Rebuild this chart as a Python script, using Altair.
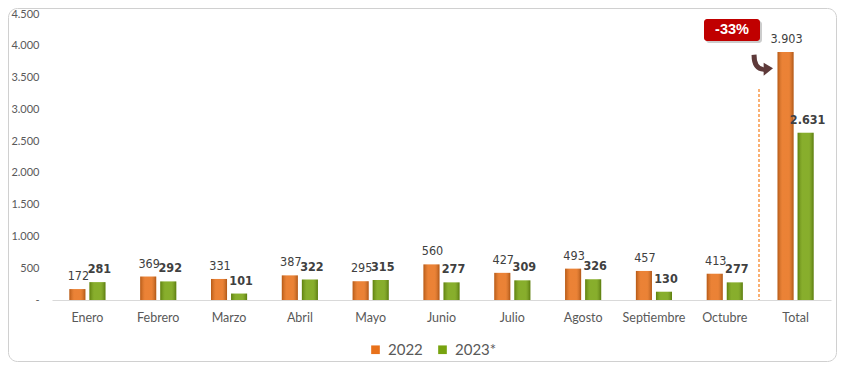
import altair as alt
import pandas as pd

months = ["Enero", "Febrero", "Marzo", "Abril", "Mayo", "Junio", "Julio",
          "Agosto", "Septiembre", "Octubre", "Total"]
v2022 = [172, 369, 331, 387, 295, 560, 427, 493, 457, 413, 3903]
v2023 = [281, 292, 101, 322, 315, 277, 309, 326, 130, 277, 2631]
series = ["2022", "2023*"]
colors = ["#E8711A", "#77A30F"]
y_ticks = [0, 500, 1000, 1500, 2000, 2500, 3000, 3500, 4000, 4500]

rows = []
for m, a, b in zip(months, v2022, v2023):
    rows.append({"mes": m, "serie": series[0], "valor": a})
    rows.append({"mes": m, "serie": series[1], "valor": b})
df = pd.DataFrame(rows)
df["etiqueta"] = df["valor"].map(lambda v: f"{v:,}".replace(",", "."))

change = round((v2023[-1] / v2022[-1] - 1) * 100)
ann = pd.DataFrame({"txt": [f"{change}%"]})

GRAY = "#595959"
LBL = "#404040"

x = alt.X("mes:N", sort=months,
          scale=alt.Scale(paddingInner=0.49, paddingOuter=0.245),
          axis=alt.Axis(title=None, labelAngle=0, domainColor="#D9D9D9", domainWidth=1,
                        ticks=False, labelPadding=11, labelFont="Lato", labelFontSize=12.5,
                        labelColor=GRAY, grid=False))
xo = alt.XOffset("serie:N", sort=series, scale=alt.Scale(paddingInner=0.2, paddingOuter=0))
y = alt.Y("valor:Q", scale=alt.Scale(domain=[0, 4500], nice=False),
          axis=alt.Axis(title=None, values=y_ticks, domain=False, ticks=False, grid=False,
                        labelExpr="datum.value == 0 ? '-' : replace(format(datum.value, ','), ',', '.')",
                        labelPadding=13, labelFont="Lato", labelFontSize=11, labelColor=GRAY))

base = alt.Chart(df).encode(x=x, xOffset=xo, y=y)

bars = base.mark_bar().encode(
    color=alt.Color("serie:N", sort=series, scale=alt.Scale(domain=series, range=colors),
                    legend=alt.Legend(title=None, orient="none", legendX=316, legendY=328,
                                      direction="horizontal", symbolType="square",
                                      symbolSize=75, labelFont="Lato", labelFontSize=15,
                                      labelColor=GRAY, columnPadding=12, labelOffset=5,
                                      symbolStrokeWidth=0))
)

shade = base.mark_bar(color=alt.LinearGradient(
    gradient="linear", x1=0, x2=1, y1=0, y2=0,
    stops=[alt.GradientStop(color="rgba(0,0,0,0.22)", offset=0),
           alt.GradientStop(color="rgba(255,255,255,0.12)", offset=0.3),
           alt.GradientStop(color="rgba(255,255,255,0.12)", offset=0.7),
           alt.GradientStop(color="rgba(0,0,0,0.25)", offset=1)]))

t2022 = base.transform_filter(alt.datum.serie == series[0]).mark_text(
    font="DejaVu Sans Condensed", fontSize=12.5, color=LBL, baseline="bottom", dy=-6, dx=1
).encode(text="etiqueta:N")
t2023 = base.transform_filter(alt.datum.serie == series[1]).mark_text(
    font="DejaVu Sans Condensed", fontSize=12.5, fontWeight="bold", color=LBL,
    baseline="bottom", dy=-6, dx=2
).encode(text="etiqueta:N")

one = alt.Chart(ann)
sep = one.mark_rule(color="#F79646", strokeDash=[3, 2], strokeWidth=1.5).encode(
    x=alt.value(707), y=alt.value(75), y2=alt.value(286))

box_shadow = one.mark_rect(color="#000000", opacity=0.2, cornerRadius=3).encode(
    x=alt.value(654), x2=alt.value(710), y=alt.value(7), y2=alt.value(29))
box = one.mark_rect(color="#C00000", cornerRadius=3).encode(
    x=alt.value(652), x2=alt.value(708), y=alt.value(5), y2=alt.value(27))
box_txt = one.mark_text(font="Liberation Sans", fontSize=14.5, fontWeight="bold", color="white").encode(
    x=alt.value(680), y=alt.value(16), text="txt:N")

arrow_path = ("M -0.95 -0.9 Q -0.95 0.55 0.15 0.62 L 0.15 0.98 L 1.0 0.3 "
              "L 0.15 -0.2 L 0.15 0.2 Q -0.5 0.15 -0.5 -0.95 Z")
arrow = one.mark_point(shape=arrow_path, filled=True, color="#5E3A3A", opacity=1, size=484).encode(
    x=alt.value(710), y=alt.value(51))

border = one.mark_rect(fillOpacity=0, stroke="#D0D0D0", strokeWidth=1, cornerRadius=9).encode(
    x=alt.value(-43.5), x2=alt.value(784.5), y=alt.value(-5.5), y2=alt.value(347.5))

chart = alt.layer(border, bars, shade, t2022, t2023, sep, box_shadow, box, box_txt, arrow).properties(
    width=779, height=286,
    autosize=alt.AutoSizeParams(type="none"),
    padding={"left": 44, "top": 6, "right": 6, "bottom": 62},
    background="white",
).configure_view(stroke=None)

chart.save("out.html", embed_options={"renderer": "svg", "actions": False})
